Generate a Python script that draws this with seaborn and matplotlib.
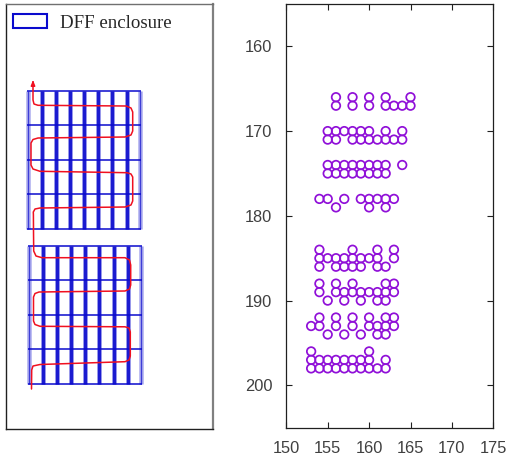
import pandas as pd
import seaborn as sns
import matplotlib.pyplot as plt
from matplotlib.patches import Patch

# right panel: one list of x values per row
row_y = [166, 167, 170, 171, 174, 175, 178, 179, 184, 185, 186, 188, 189, 190, 192, 193, 194, 196, 197, 198]
row_x = [
    [156, 158, 160, 162, 165],
    [156, 158, 160, 162, 163, 164, 165],
    [155, 156, 157, 158, 159, 160, 162, 164],
    [155, 156, 158, 159, 160, 161, 162, 163, 164],
    [155, 156, 157, 158, 159, 160, 161, 162, 164],
    [155, 156, 157, 158, 159, 160, 161, 162],
    [154, 155, 157, 159, 160, 161, 162, 163],
    [156, 160, 162],
    [154, 158, 161, 163],
    [154, 155, 156, 157, 158, 159, 160, 161, 163],
    [154, 156, 157, 158, 159, 161, 162],
    [154, 156, 158, 162, 163],
    [154, 156, 157, 158, 159, 160, 161, 162, 163],
    [155, 157, 159, 161, 162],
    [154, 156, 158, 160, 162, 163],
    [153, 154, 156, 158, 160, 161, 162, 163],
    [155, 157, 159, 161, 162],
    [153, 160],
    [153, 154, 155, 156, 157, 158, 159, 160, 162],
    [153, 154, 155, 156, 157, 158, 159, 160, 161, 162],
]
x_ticks = [150, 155, 160, 165, 170, 175]
y_ticks = [160, 170, 180, 190, 200]

# left panel: enclosure grids, in the panel's own units
top_cols = [28.3, 42, 55.7, 70, 84, 98.3, 112, 127, 140.3]
top_rows = [90.7, 125.3, 160, 194, 228.7]
bot_cols = [29.3, 42.7, 56.7, 71, 85.3, 99.3, 113.7, 127.7, 141.3]
bot_rows = [245.7, 280, 314.7, 349, 383.7]

# scan path, from the bottom up
path_x = [31.5, 31.7, 33, 40, 125, 129, 130.3, 130.3, 129, 125, 40, 35, 33.5, 33.5, 35, 39,
          125, 129.5, 130.7, 130.7, 129.5, 125, 42, 36, 33.7, 33.5, 33.4, 33.3, 35, 40,
          125, 131, 132.7, 132.7, 131, 127, 40, 33, 31, 31, 33, 38,
          125, 131, 132.7, 132.7, 131, 126, 38, 34, 33, 33]
path_y = [389, 370, 366, 364.5, 361.7, 360, 356, 332, 328, 326.8, 326.3, 324.5, 321, 297, 293.5, 292,
          291, 289, 285, 265, 260, 257.7, 257.7, 256, 251, 230, 215, 212, 209, 208,
          207, 205, 201, 177, 174, 172.7, 171.3, 169, 165, 143, 139.5, 138,
          137, 135, 131, 112, 108, 106, 105.3, 104, 100, 84]

blue = "#0a0acd"
red = "#f01020"
violet = "#9010d8"

sns.set_style("white")
plt.rcParams["font.family"] = ["Liberation Sans", "DejaVu Sans"]

fig = plt.figure(figsize=(5.07, 4.62), dpi=100)
W, H = 507, 462
ax1 = fig.add_axes([6 / W, 1 - 428.5 / H, 207 / W, 424.5 / H])
ax2 = fig.add_axes([286.3 / W, 1 - 427.7 / H, 207 / W, 423.7 / H])

# left panel
for cols, rows in [(top_cols, top_rows), (bot_cols, bot_rows)]:
    ax1.vlines(cols, rows[0], rows[-1], color=blue, lw=3.4, alpha=0.3)
    ax1.vlines(cols[1:-1], rows[0], rows[-1], color=blue, lw=2.5, alpha=0.9)
    ax1.vlines([cols[0], cols[-1]], rows[0], rows[-1], color=blue, lw=1.0, alpha=0.7)
    ax1.hlines(rows, cols[0] - 1, cols[-1] + 1, color=blue, lw=1.1)

path = pd.DataFrame({"x": path_x, "y": path_y})
sns.lineplot(data=path, x="x", y="y", sort=False, estimator=None, color=red, lw=1.1, ax=ax1)
ax1.annotate("", xy=(path_x[-1], 80), xytext=(path_x[-1], path_y[-1]),
             arrowprops=dict(arrowstyle="-|>,head_width=0.12,head_length=0.3", color=red, lw=1.1,
                             shrinkA=0, shrinkB=0))
ax1.set_xlim(6, 213)
ax1.set_ylim(428.5, 4)
ax1.set_xticks([])
ax1.set_yticks([])
ax1.set_xlabel("")
ax1.set_ylabel("")
for side in ax1.spines:
    ax1.spines[side].set_color("#202020")
    ax1.spines[side].set_linewidth(1.0)
ax1.spines["right"].set_color("#808080")
ax1.spines["right"].set_linewidth(1.6)
ax1.spines["top"].set_color("#707070")
leg = ax1.legend(handles=[Patch(facecolor="white", edgecolor=blue, lw=1.5, label="DFF enclosure")],
                 loc="upper left", bbox_to_anchor=(0.0, 0.991), frameon=False,
                 prop={"family": "Liberation Serif", "size": 13.6},
                 handlelength=1.83, handleheight=0.72, handletextpad=0.69, borderaxespad=0.0,
                 borderpad=0.35)

# right panel
points = pd.DataFrame({
    "x": [v for xs in row_x for v in xs],
    "y": [y for y, xs in zip(row_y, row_x) for _ in xs],
})
sns.scatterplot(data=points, x="x", y="y", marker="o", s=38, facecolors="none",
                edgecolor=violet, linewidth=1.25, ax=ax2)
ax2.set_xlim(150, 175)
ax2.set_ylim(205, 155)
ax2.set_xticks(x_ticks)
ax2.set_yticks(y_ticks)
ax2.set_xlabel("")
ax2.set_ylabel("")
ax2.tick_params(axis="both", which="major", direction="in", length=4, width=0.8, color="#202020",
                top=True, right=True, bottom=True, left=True, labelsize=11.8, labelcolor="#404040")
ax2.tick_params(axis="x", pad=9.5)
ax2.tick_params(axis="y", pad=10)
for side in ax2.spines:
    ax2.spines[side].set_color("#202020")
    ax2.spines[side].set_linewidth(0.9)

fig.savefig("out.png", dpi=100)
